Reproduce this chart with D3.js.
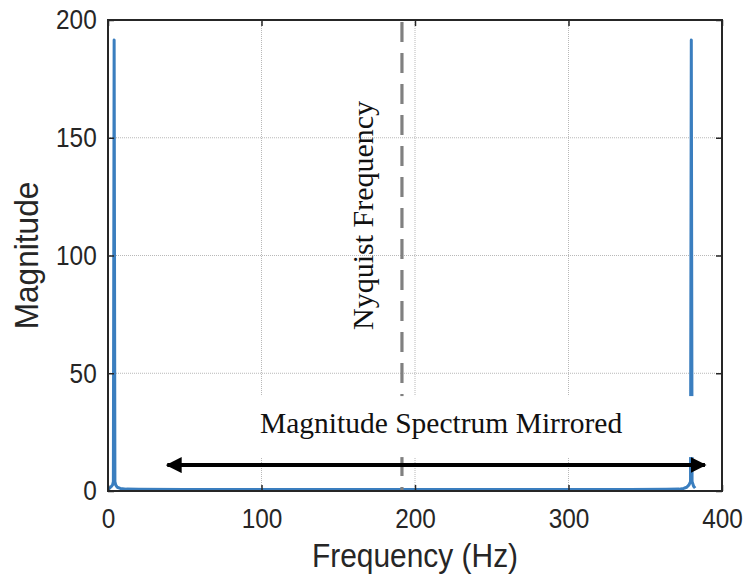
<!DOCTYPE html>
<html>
<head>
<meta charset="utf-8">
<script src="https://cdn.jsdelivr.net/npm/d3@7"></script>
<style>
  body { margin: 0; background: #fff; }
  svg { display: block; }
  .tick text { font-family: "Liberation Sans", Arial, sans-serif; fill: #262626; }
</style>
</head>
<body>
<svg width="744" height="576"></svg>
<script>
// spectrum (Hz, magnitude)
const freqs = [0, 1, 2, 3, 3.5, 4, 4.5, 5, 6, 8, 12, 20, 50, 100, 150, 191.5,
               250, 300, 340, 364, 372, 375, 377, 378.5, 379.5, 380, 380.5, 381.5, 382.5];
const mags  = [0.6, 1.2, 1.8, 2.6, 4, 191.5, 4, 2.6, 1.6, 1.1, 0.8, 0.7, 0.6, 0.6, 0.6, 0.6,
               0.6, 0.6, 0.6, 0.7, 0.8, 1.1, 1.6, 2.6, 4, 191.5, 4, 2, 1.2];

const xTicks = [0, 100, 200, 300, 400];
const yTicks = [0, 50, 100, 150, 200];

const nyquist = 191.5;
const arrowFrom = 36, arrowTo = 391.5, arrowLevel = 11;
const labelBox = [11, 389, 14.4, 40.3]; // x0, x1, y0, y1 in data units

const svg = d3.select('svg');
const padL = 108, padR = 722, padT = 20, padB = 491;

let x = d3.scaleLinear().domain([0, 400]).range([padL, padR]);
let y = d3.scaleLinear().domain([0, 200]).range([padB, padT]);

let defs = svg.append('defs');
defs.append('clipPath').attr('id', 'plot')
  .append('rect').attr('x', padL).attr('y', padT)
  .attr('width', padR - padL).attr('height', padB - padT);

defs.append('marker').attr('id', 'head')
  .attr('viewBox', '0 0 10 10').attr('refX', 9).attr('refY', 5)
  .attr('markerWidth', 4).attr('markerHeight', 4).attr('markerUnits', 'strokeWidth')
  .attr('orient', 'auto-start-reverse')
  .append('path').attr('d', 'M0,0 L10,5 L0,10 Z').attr('fill', '#000');

// grid
let grid = svg.append('g');
xTicks.slice(1, -1).forEach((t) => {
  grid.append('line').attr('x1', x(t)).attr('x2', x(t)).attr('y1', padT).attr('y2', padB)
    .attr('stroke', '#b8b8b8').attr('stroke-dasharray', '1,1');
});
yTicks.slice(1, -1).forEach((t) => {
  grid.append('line').attr('x1', padL).attr('x2', padR).attr('y1', y(t)).attr('y2', y(t))
    .attr('stroke', '#b8b8b8').attr('stroke-dasharray', '1,1');
});

// spectrum
let line = d3.line().x((d, i) => x(freqs[i])).y((d) => y(d));
svg.append('path').datum(mags)
  .attr('clip-path', 'url(#plot)')
  .attr('d', line).attr('fill', 'none')
  .attr('stroke', '#3a7ebf').attr('stroke-width', 3).attr('stroke-linejoin', 'round');

// nyquist marker
svg.append('line')
  .attr('x1', x(nyquist)).attr('x2', x(nyquist)).attr('y1', y(200) + 2).attr('y2', y(0))
  .attr('stroke', '#808080').attr('stroke-width', 3.2).attr('stroke-dasharray', '20,11');

svg.append('text')
  .attr('transform', `translate(${x(nyquist) - 29},${y(117)}) rotate(-90)`)
  .attr('text-anchor', 'middle')
  .attr('font-family', '"Liberation Serif", "Times New Roman", serif')
  .attr('font-size', 30).attr('fill', '#111')
  .text('Nyquist Frequency');

// mirrored annotation with its white box
svg.append('rect')
  .attr('x', x(labelBox[0])).attr('y', y(labelBox[3]))
  .attr('width', x(labelBox[1]) - x(labelBox[0])).attr('height', y(labelBox[2]) - y(labelBox[3]))
  .attr('fill', '#fff');

svg.append('text')
  .attr('x', x(217)).attr('y', y(24.5))
  .attr('text-anchor', 'middle')
  .attr('font-family', '"Liberation Serif", "Times New Roman", serif')
  .attr('font-size', 29.5).attr('fill', '#111')
  .text('Magnitude Spectrum Mirrored');

svg.append('line')
  .attr('x1', x(arrowFrom) + 4).attr('x2', x(arrowTo) - 4)
  .attr('y1', y(arrowLevel)).attr('y2', y(arrowLevel))
  .attr('stroke', '#000').attr('stroke-width', 4)
  .attr('marker-start', 'url(#head)').attr('marker-end', 'url(#head)');

// axes, ticks inward on all four sides
let axB = svg.append('g').attr('transform', `translate(0,${padB})`)
  .call(d3.axisBottom(x).tickValues(xTicks).tickSize(-6).tickPadding(17));
let axT = svg.append('g').attr('transform', `translate(0,${padT})`)
  .call(d3.axisTop(x).tickValues(xTicks).tickSize(-6).tickFormat(''));
let axL = svg.append('g').attr('transform', `translate(${padL},0)`)
  .call(d3.axisLeft(y).tickValues(yTicks).tickSize(-6).tickPadding(13));
let axR = svg.append('g').attr('transform', `translate(${padR},0)`)
  .call(d3.axisRight(y).tickValues(yTicks).tickSize(-6).tickFormat(''));

[axB, axT, axL, axR].forEach((ax) => {
  ax.select('.domain').remove();
  ax.selectAll('.tick line').attr('stroke', '#262626').attr('stroke-width', 1.5);
  ax.selectAll('.tick text').attr('font-size', 28).attr('transform', 'scale(0.87,1)');
});

svg.append('rect').attr('x', padL).attr('y', padT)
  .attr('width', padR - padL).attr('height', padB - padT)
  .attr('fill', 'none').attr('stroke', '#262626').attr('stroke-width', 2);

// axis titles
svg.append('text')
  .attr('transform', `translate(${(padL + padR) / 2},567) scale(0.88,1)`)
  .attr('text-anchor', 'middle')
  .attr('font-family', '"Liberation Sans", Arial, sans-serif')
  .attr('font-size', 34).attr('fill', '#262626')
  .text('Frequency (Hz)');

svg.append('text')
  .attr('transform', `translate(38,${(padT + padB) / 2}) rotate(-90) scale(0.93,1)`)
  .attr('text-anchor', 'middle')
  .attr('font-family', '"Liberation Sans", Arial, sans-serif')
  .attr('font-size', 34).attr('fill', '#262626')
  .text('Magnitude');
</script>
</body>
</html>
